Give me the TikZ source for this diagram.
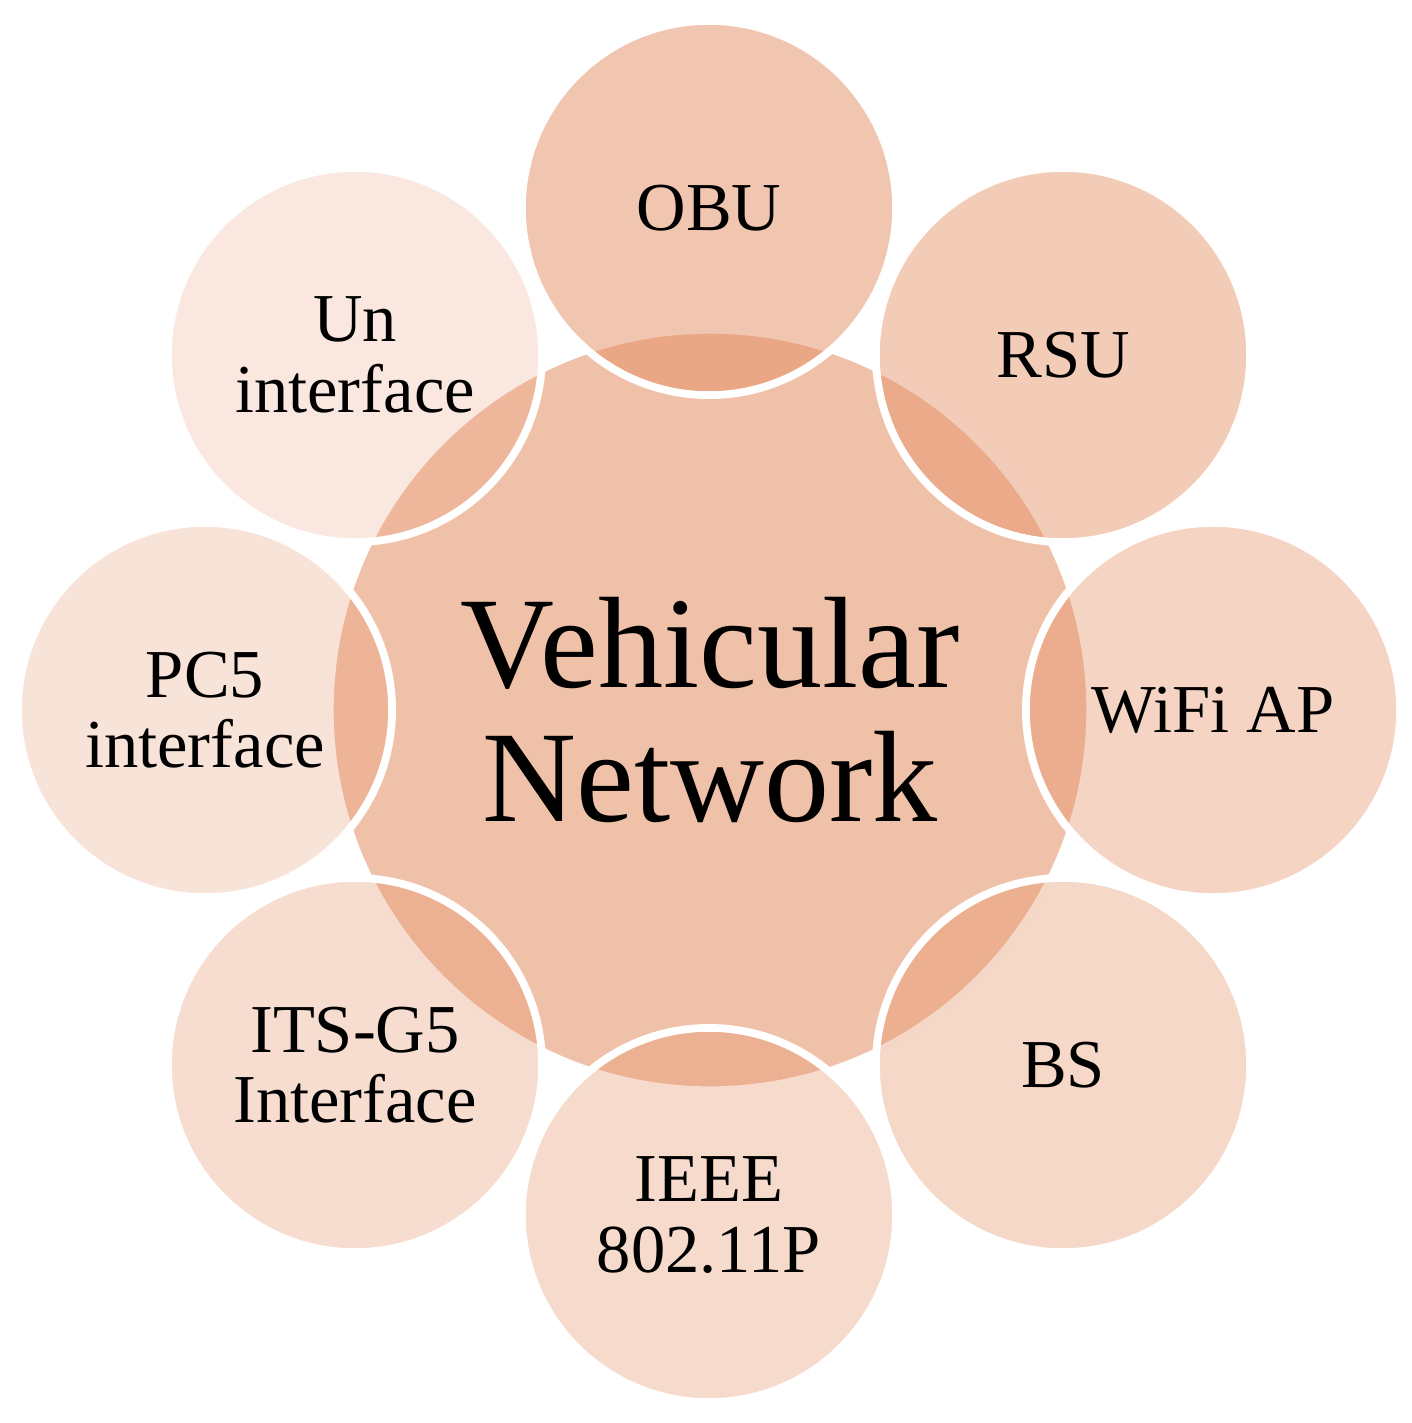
\documentclass[tikz,border=0pt]{standalone}
\usepackage{fontspec}
\setmainfont{Liberation Serif}
\definecolor{base}{HTML}{E48E62}
\tikzset{
  hub/.style={circle,minimum size=7.6cm,fill=base,fill opacity=0.55,draw=white,line width=2.2pt,text opacity=1,align=center,font=\fontsize{37}{38}\selectfont},
  leaf/.style={circle,minimum size=3.74cm,fill=base,draw=white,line width=2.2pt,text opacity=1,align=center,font=\fontsize{19.5}{20}\selectfont}
}
\begin{document}
\begin{tikzpicture}[x=0.01cm,y=-0.01cm]
\useasboundingbox (0,0) rectangle (1412,1423);
\node[hub] (c) at (710,710) {Vehicular\\Network};
\node[leaf,fill opacity=0.5] (obu) at (709,208) {OBU};
\node[leaf,fill opacity=0.45] (rsu) at (1063,355) {RSU};
\node[leaf,fill opacity=0.38] (wifi) at (1213,710) {WiFi AP};
\node[leaf,fill opacity=0.35] (bs) at (1063,1065) {BS};
\node[leaf,fill opacity=0.32] (ieee) at (709,1215) {IEEE\\802.11P};
\node[leaf,fill opacity=0.3] (its) at (355,1065) {ITS-G5\\Interface};
\node[leaf,fill opacity=0.25] (pc5) at (205,710) {PC5\\interface};
\node[leaf,fill opacity=0.2] (un) at (355,355) {Un\\interface};
\end{tikzpicture}
\end{document}
